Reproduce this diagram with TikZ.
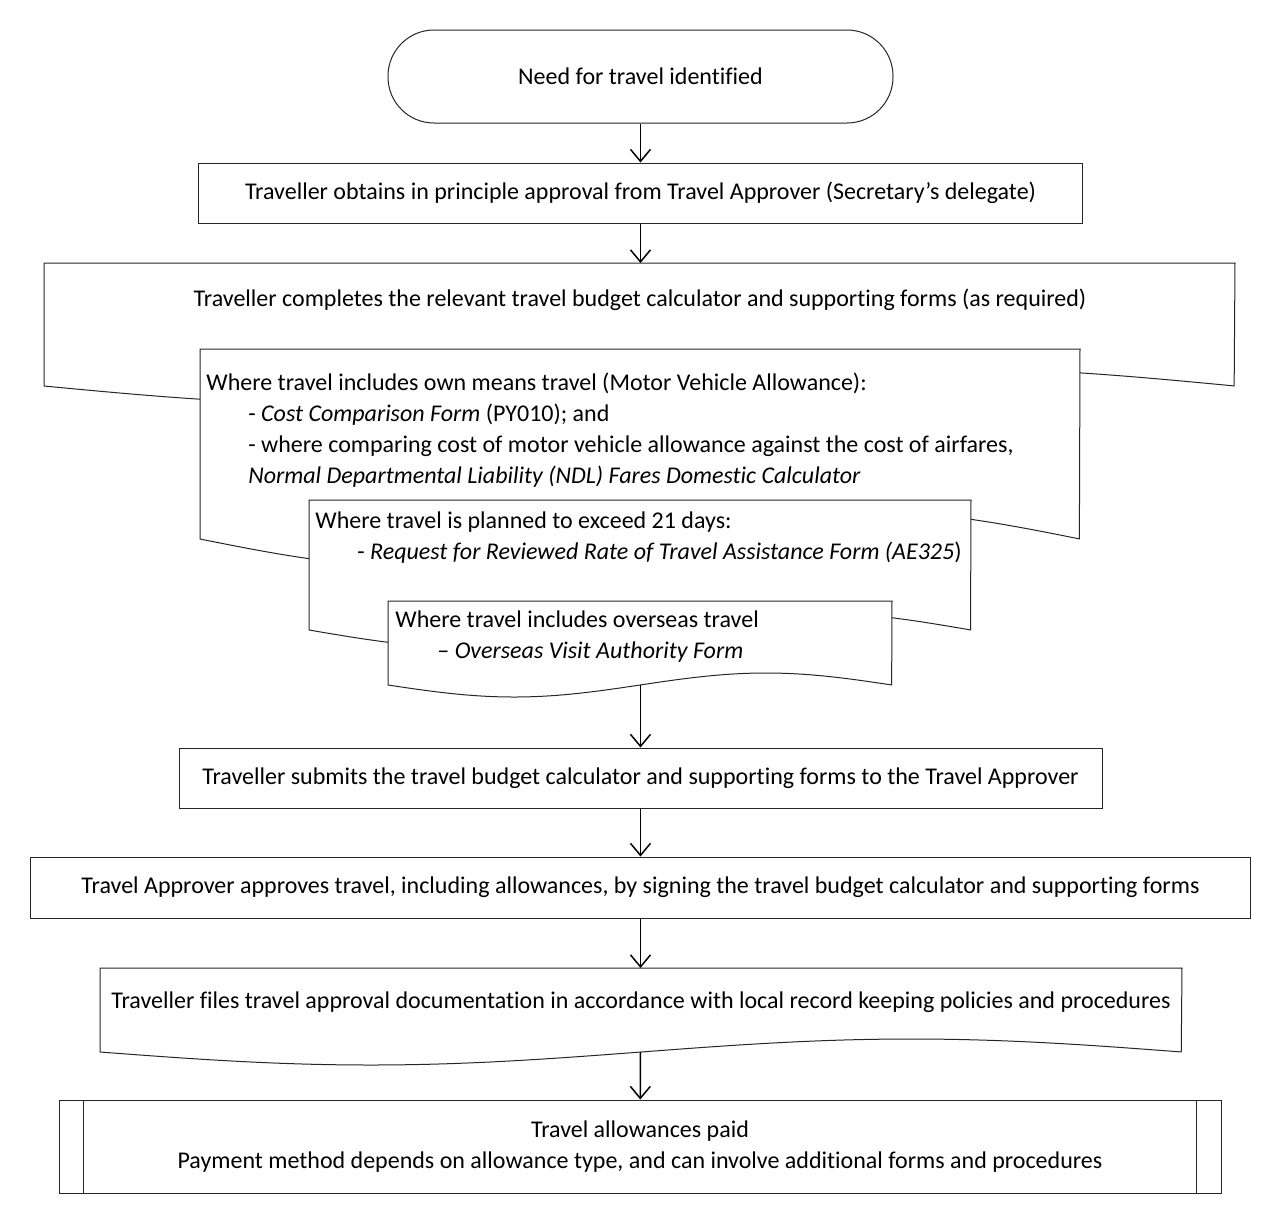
\documentclass[tikz,border=0pt]{standalone}
\usepackage{fontspec}
\setmainfont{Carlito}[Ligatures={TeX,NoCommon}]
\usetikzlibrary{arrows.meta}
\colorlet{boxline}{black!85}
% document shape: left, top, right, bottom corner, wave height
\newcommand{\docshape}[5]{%
  \filldraw[boxline,fill=white,line width=0.5pt]
    plot[domain=0:1,samples=60,smooth] ({#1+\x*(#3-#1)},{#4+#5*sin(360*\x)})
    -- (#3,#2) -- (#1,#2) -- cycle;}

\begin{document}
\begin{tikzpicture}[x=0.5pt,y=-0.5pt,
    txt/.style={font=\fontsize{12}{15.5}\selectfont,inner sep=0pt},
    procbox/.style={txt,draw=boxline,line width=0.5pt,fill=white,minimum height=30pt},
    flowarrow/.style={-{Straight Barb[length=6pt,width=10pt]},line width=0.75pt}]
    \useasboundingbox (0,0) rectangle (1282,1223);
    \node [procbox,rounded corners=23pt,minimum width=252.5pt,minimum height=46.5pt]
        (need) at (640.5,76.5) {Need for travel identified};
    \node [procbox,minimum width=442pt] (inprinciple) at (640.5,193)
        {Traveller obtains in principle approval from Travel Approver (Secretary’s delegate)};

    \docshape{44}{263}{1235}{386}{18}
    \coordinate (calctop) at (640.5,263);
    \node [txt] (calc) at (640,300)
        {Traveller completes the relevant travel budget calculator and supporting forms (as required)};
    \docshape{200}{349}{1080}{539}{28}
    \node [txt,anchor=north west,align=left] (ownmeans) at (206,373)
        {Where travel includes own means travel (Motor Vehicle Allowance):\\
        \hspace*{21pt}- \textit{Cost Comparison Form} (PY010); and\\
        \hspace*{21pt}- where comparing cost of motor vehicle allowance against the cost of airfares,\\
        \hspace*{21pt}\textit{Normal Departmental Liability (NDL) Fares Domestic Calculator}};
    \docshape{309}{500}{971}{630}{18}
    \node [txt,anchor=north west,align=left] (longstay) at (315,511)
        {Where travel is planned to exceed 21 days:\\
        \hspace*{21pt}- \textit{Request for Reviewed Rate of Travel Assistance Form (AE325})};
    \docshape{388}{601}{892}{685}{12}
    \node [txt,anchor=north west,align=left] (overseas) at (395,610)
        {Where travel includes overseas travel\\
        \hspace*{21pt}– \textit{Overseas Visit Authority Form}};
    \coordinate (overseasbot) at (640.5,685);

    \node [procbox,minimum width=461.5pt] (submit) at (640.5,778)
        {Traveller submits the travel budget calculator and supporting forms to the Travel Approver};
    \node [procbox,minimum width=610pt,minimum height=30.5pt] (approve) at (640.5,887.5)
        {Travel Approver approves travel, including allowances, by signing the travel budget calculator and supporting forms};

    \docshape{100}{968}{1182}{1052}{13}
    \coordinate (filestop) at (640.5,968);
    \coordinate (filesbot) at (640.5,1052);
    \node [txt] (files) at (641,1002)
        {Traveller files travel approval documentation in accordance with local record keeping policies and procedures};

    \node [procbox,align=center,minimum width=581pt,minimum height=46.5pt] (pay) at (640,1146.5)
        {Travel allowances paid\\Payment method depends on allowance type, and can involve additional forms and procedures};
    \draw [boxline,line width=0.5pt] ([xshift=12.5pt]pay.north west) -- ([xshift=12.5pt]pay.south west);
    \draw [boxline,line width=0.5pt] ([xshift=-12.5pt]pay.north east) -- ([xshift=-12.5pt]pay.south east);

    \draw [flowarrow] (need) -- (inprinciple);
    \draw [flowarrow] (inprinciple) -- (calctop);
    \draw [flowarrow] (overseasbot) -- (submit);
    \draw [flowarrow] (submit) -- (approve);
    \draw [flowarrow] (approve) -- (filestop);
    \draw [flowarrow] (filesbot) -- (pay);
\end{tikzpicture}
\end{document}
